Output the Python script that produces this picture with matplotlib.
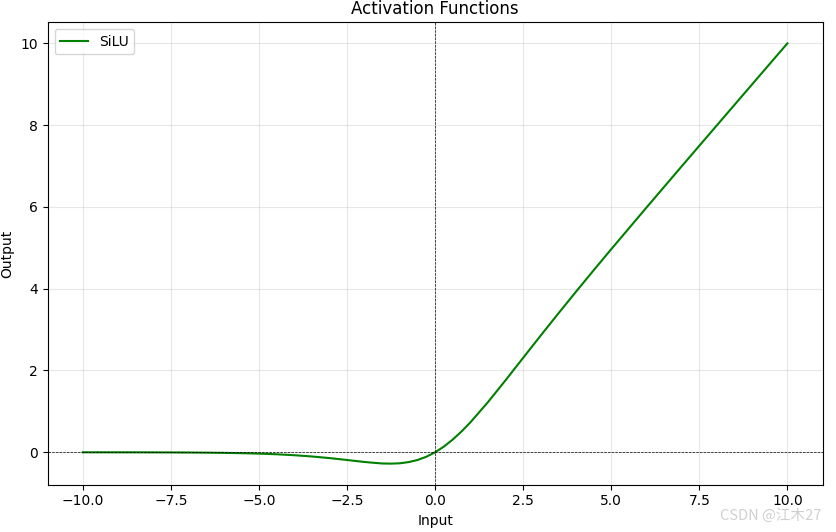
import matplotlib
matplotlib.use("Agg")
import matplotlib.pyplot as plt

# points
x_vals = [-10, -9.5, -9, -8.5, -8, -7.5, -7, -6.5, -6, -5.5, -5, -4.5, -4,
          -3.5, -3, -2.5, -2, -1.75, -1.5, -1.25, -1, -0.75, -0.5, -0.25,
          0, 0.25, 0.5, 0.75, 1, 1.5, 2, 2.5, 3, 3.5, 4, 4.5, 5, 6, 7, 8, 9, 10]
silu_vals = [-0.0005, -0.0007, -0.0011, -0.0017, -0.0027, -0.0041, -0.0064,
             -0.0098, -0.015, -0.022, -0.033, -0.049, -0.072, -0.103, -0.142,
             -0.189, -0.238, -0.257, -0.274, -0.278, -0.269, -0.240, -0.189,
             -0.110, 0.0, 0.140, 0.311, 0.510, 0.731, 1.227, 1.762, 2.311,
             2.858, 3.397, 3.928, 4.451, 4.967, 5.985, 6.994, 7.997, 8.999,
             9.9995]

fig = plt.figure(figsize=(8.36, 5.32), dpi=100)
ax = fig.add_axes([0.057, 0.089, 0.927, 0.869])

ax.plot(x_vals, silu_vals, color="green", lw=1.5, label="SiLU")
ax.axhline(0, color="black", lw=0.5, ls="--")
ax.axvline(0, color="black", lw=0.5, ls="--")
ax.grid(alpha=0.3)
ax.set_title("Activation Functions")
ax.set_xlabel("Input")
ax.set_ylabel("Output")
ax.legend(loc="upper left")

# CSDN watermark
fig.text(0.983, 0.017, "CSDN @江木27", ha="right", va="bottom", fontsize=10.5,
         color="#d0d0d0", family=["Noto Sans CJK SC", "DejaVu Sans"])

fig.savefig("out.png", dpi=100, facecolor="white")
plt.close(fig)
